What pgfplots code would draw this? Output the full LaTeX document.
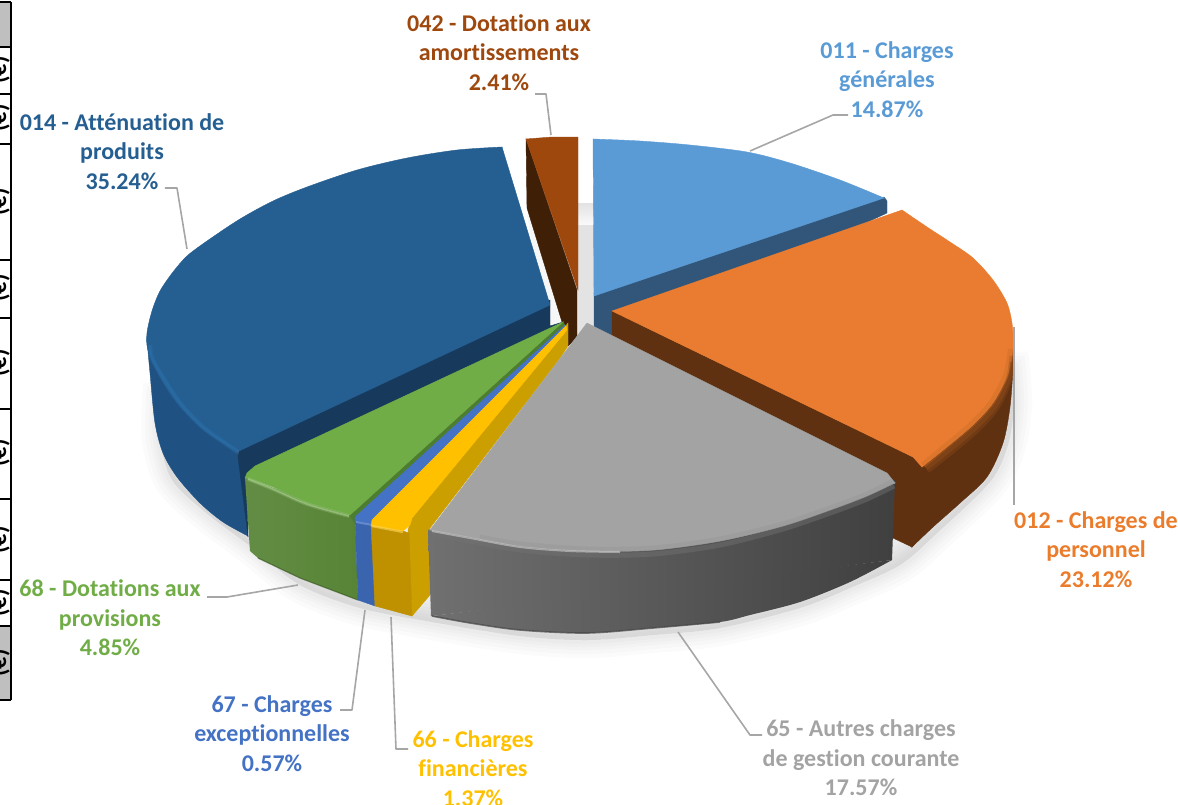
\documentclass[border=0pt]{standalone}
\usepackage{fontspec}
\setmainfont[Ligatures={NoCommon}]{Carlito}
\usepackage{pgfplots}
\pgfplotsset{compat=1.18}
\definecolor{c011}{HTML}{5B9BD5}\definecolor{c011s}{HTML}{31567A}
\definecolor{c012}{HTML}{E97C30}\definecolor{c012s}{HTML}{5F3110}
\definecolor{c65}{HTML}{A3A3A3}
\definecolor{c66}{HTML}{FFC000}\definecolor{c66s}{HTML}{BF9000}\definecolor{c66c}{HTML}{CC9F00}
\definecolor{c67}{HTML}{4472C4}\definecolor{c67s}{HTML}{3A64AE}
\definecolor{c68}{HTML}{70AD47}\definecolor{c68s}{HTML}{578436}\definecolor{c68c}{HTML}{4D7D2F}
\definecolor{c014}{HTML}{255E91}\definecolor{c014s}{HTML}{1F5283}\definecolor{c014c}{HTML}{173A5C}\definecolor{c014r}{HTML}{2A6DA6}
\definecolor{c042}{HTML}{9E480E}\definecolor{c042c}{HTML}{3F1F06}
\definecolor{lead}{HTML}{A6A6A6}
\tikzset{
  lab/.style={font=\bfseries\fontsize{12}{14.75}\selectfont,align=center,anchor=center,inner sep=0pt},
  ldr/.style={draw=lead,line width=0.8pt,line join=round},
  pf/.style={draw=#1,line width=0.2pt,fill=#1},
  tg/.style={font=\bfseries\fontsize{12}{12}\selectfont,rotate=90,inner sep=0pt,text=black},
  tl/.style={draw=black,line width=0.6pt},
  shd/.style={draw=black,fill=black,draw opacity=0.017,fill opacity=0.015,smooth,line width=#1}}
\begin{document}
\begin{tikzpicture}[x=1pt,y=1pt]
\clip (0,0) rectangle (589,402);
\begin{axis}[at={(0,0)},anchor=south west,scale only axis,width=589pt,height=402pt,
  xmin=0,xmax=1178,ymin=0,ymax=804,y dir=reverse,axis lines=none,clip=false,
  every axis plot/.append style={no markers}]
% soft shadow
\addplot[shd=18pt] coordinates {(160,400)(160,440)(172,480)(205,512)(250,546)(300,585)(360,608)(432,622)(520,636)(587,640)(653,635)(720,628)(800,608)(850,588)(900,565)(935,535)(990,482)(1008,445)(1014,405)(1012,370)} --cycle;
\addplot[shd=14pt] coordinates {(160,400)(160,440)(172,480)(205,512)(250,546)(300,585)(360,608)(432,622)(520,636)(587,640)(653,635)(720,628)(800,608)(850,588)(900,565)(935,535)(990,482)(1008,445)(1014,405)(1012,370)} --cycle;
\addplot[shd=10pt] coordinates {(160,400)(160,440)(172,480)(205,512)(250,546)(300,585)(360,608)(432,622)(520,636)(587,640)(653,635)(720,628)(800,608)(850,588)(900,565)(935,535)(990,482)(1008,445)(1014,405)(1012,370)} --cycle;
\addplot[shd=7pt] coordinates {(160,400)(160,440)(172,480)(205,512)(250,546)(300,585)(360,608)(432,622)(520,636)(587,640)(653,635)(720,628)(800,608)(850,588)(900,565)(935,535)(990,482)(1008,445)(1014,405)(1012,370)} --cycle;
\addplot[shd=4pt] coordinates {(160,400)(160,440)(172,480)(205,512)(250,546)(300,585)(360,608)(432,622)(520,636)(587,640)(653,635)(720,628)(800,608)(850,588)(900,565)(935,535)(990,482)(1008,445)(1014,405)(1012,370)} --cycle;
\addplot[draw=none,top color=black!2,bottom color=black!11,shading angle=180] coordinates {(577,203)(594,203)(594,225)(577,225)} --cycle;
\addplot[draw=none,fill=black!11] coordinates {(577,225)(594,225)(594,340)(577,340)} --cycle;
\addplot[draw=none,fill=black!3] coordinates {(527,215)(578,215)(578,340)(550,340)} --cycle;
% table fragment
\addplot[draw=none,fill=black!25] coordinates {(0,2)(11,2)(11,47)(0,47)} --cycle;
\addplot[draw=none,fill=black!25] coordinates {(0,626)(11,626)(11,700)(0,700)} --cycle;
\addplot[tl] coordinates {(11,2)(11,700)};
\addplot[tl] coordinates {(0,2)(11,2)};
\addplot[tl] coordinates {(0,47)(11,47)};
\addplot[tl] coordinates {(0,94)(11,94)};
\addplot[tl] coordinates {(0,144)(11,144)};
\addplot[tl] coordinates {(0,260)(11,260)};
\addplot[tl] coordinates {(0,318)(11,318)};
\addplot[tl] coordinates {(0,409)(11,409)};
\addplot[tl] coordinates {(0,499)(11,499)};
\addplot[tl] coordinates {(0,580)(11,580)};
\addplot[tl] coordinates {(0,626)(11,626)};
\addplot[tl] coordinates {(0,700)(11,700)};
% 011
\addplot[pf=c011s] coordinates {(594,292)(884,197)(887,201)(887,213)(700,300)(612,340)(594,330)} --cycle;
\addplot[pf=c011] coordinates {(593,139)(740,160)(884,198)(594,296)} --cycle;
\addplot[pf=c011,smooth] coordinates {(593,139)(640,141)(690,145)(747,152)(790,163)(840,180)(884,198)} --cycle;
% 042
\addplot[pf=c042c] coordinates {(526,139)(577,290)(577,337)(568,346)(562,322)(527,208)} --cycle;
\addplot[pf=c042] coordinates {(526,139)(552,137)(578,137)(578,290)} --cycle;
% 014 side
\addplot[pf=c014s,smooth] coordinates {(147,340)(150,373)(155,423)(163,453)(177,477)(200,503)(223,522)(248,536)} --cycle;
\addplot[pf=c014s] coordinates {(150,345)(170,440)(248,536)(238,452)(190,400)} --cycle;
% 014 cut
\addplot[pf=c014c] coordinates {(550,300)(550,326)(563,322)(247,476)(248,537)(238,457)(240,440)} --cycle;
% 014 top
\addplot[pf=c014] coordinates {(550,305)(502,147)(300,250)(239,451)} --cycle;
\addplot[pf=c014,smooth] coordinates {(502,147)(457,150)(407,158)(357,170)(307,187)(273,201)(240,219)(207,241)(187,256)(173,272)(160,291)(152,311)(147,333)(148,350)(160,377)(177,403)(200,427)(223,443)(239,451)} --cycle;
\addplot[draw=c014r,line width=2.5pt,opacity=.35,smooth] coordinates {(150,345)(152,358)(164,379)(181,404)(203,427)(225,443)(238,452)};
\addplot[draw=c014r,line width=1.4pt,opacity=.6,smooth] coordinates {(150,345)(152,358)(164,379)(181,404)(203,427)(225,443)(238,452)};
% 012
\addplot[pf=c012s,smooth] coordinates {(1013,340)(1013,367)(1010,407)(1003,443)(987,477)(960,503)(933,527)(912,547)} --cycle;
\addplot[pf=c012s] coordinates {(612,311)(913,457)(1012,340)(985,460)(912,547)(893,538)(612,340)} --cycle;
\addplot[pf=c012] coordinates {(612,311)(902,210)(960,340)(922,467)(913,457)} --cycle;
\addplot[pf=c012,smooth] coordinates {(902,210)(927,227)(950,242)(973,258)(993,280)(1007,303)(1012,323)(1013,340)(1012,357)(1007,377)(993,403)(973,425)(947,447)(922,467)} --cycle;
\addplot[draw=c012!80!c012s,line width=3pt,opacity=.4,smooth] coordinates {(1011,349)(1006,375)(992,402)(972,424)(946,446)(923,465)};
\addplot[draw=c012!50!c012s,line width=2.5pt,opacity=.45,smooth] coordinates {(1012,356)(1008,380)(995,406)(975,428)(949,450)(926,468)};
\addplot[draw=c012!25!c012s,line width=2pt,opacity=.5,smooth] coordinates {(1012,362)(1009,384)(996,410)(977,431)(951,453)(928,471)};
% green
\addplot[draw=none,left color=c68s!93!white,right color=c68s] coordinates {(245,478)(250,551)(258,558)(300,578)(358,600)(355,515)(320,500)(280,490)} --cycle;
\addplot[draw=c68s!70!black,line width=0.6pt,opacity=.7] coordinates {(258,558)(300,578)(358,600)};
\addplot[pf=c68c] coordinates {(563,322)(347,510)(354,522)(566,327)} --cycle;
\addplot[pf=c68] coordinates {(563,322)(255,466)(247,473)(245,478)(273,487)(307,503)(350,515)} --cycle;
\addplot[draw=c68!65!white,line width=2pt,opacity=.3,smooth] coordinates {(248,479)(273,489)(307,504)(349,516)};
\addplot[draw=c68!65!white,line width=0.8pt,opacity=.7,smooth] coordinates {(248,479)(273,489)(307,504)(349,516)};
% blue
\addplot[pf=c67s] coordinates {(355,518)(372,525)(375,606)(358,600)} --cycle;
\addplot[pf=c67] coordinates {(565,325)(355,517)(355,522)(372,525)(372,520)(566,328)} --cycle;
\addplot[draw=c67!70!white,line width=1pt,opacity=.6] coordinates {(356,522)(372,525)};
% yellow
\addplot[pf=c66c] coordinates {(568,323)(568,346)(560,358)(430,528)(430,595)(412,616)(408,530)(412,518)} --cycle;
\addplot[pf=c66s] coordinates {(371,525)(403,531)(409,533)(412,616)(375,606)} --cycle;
\addplot[pf=c66] coordinates {(566,326)(372,520)(371,526)(403,531)(410,525)(412,518)(567,330)} --cycle;
\addplot[draw=c66!65!white,line width=1.2pt,opacity=.6] coordinates {(372,526)(403,532)};
% grey side
\addplot[draw=none,left color=black!56,right color=black!75,smooth] coordinates {(431,616)(470,623)(520,630)(587,633)(653,628)(720,622)(750,615)(800,602)(850,582)(892,560)} --cycle;
\addplot[draw=none,left color=black!56,right color=black!75] coordinates {(428,530)(431,616)(660,590)(892,560)(895,480)} --cycle;
\addplot[draw=black!72,line width=0.8pt,opacity=.7,smooth] coordinates {(432,616)(470,623)(520,630)(587,633)(653,628)(720,622)};
% grey top
\addplot[pf=c65] coordinates {(587,323)(887,473)(895,483)(660,530)(430,530)} --cycle;
\addplot[pf=c65,smooth] coordinates {(430,530)(470,537)(520,546)(587,551)(653,550)(720,541)(783,526)(833,509)(867,496)(895,483)} --cycle;
\addplot[draw=black!42,line width=2.5pt,opacity=.4,smooth] coordinates {(480,537)(520,544)(587,549)(653,548)(720,539)(783,524)(833,507)(867,494)(893,481)};
\addplot[draw=black!55,line width=2.5pt,opacity=.45,smooth] coordinates {(432,534)(470,541)(520,550)(587,555)(653,554)(720,545)(783,529)(833,512)(867,499)(894,486)};
\addplot[draw=black!18,line width=1pt,opacity=.6,smooth] coordinates {(432,531)(470,538)(520,547)(570,551)(620,552)};
% leaders
\addplot[ldr] coordinates {(750,151)(833,115)(848,115)};
\addplot[ldr] coordinates {(551,135)(546,94)(535,94)};
\addplot[ldr] coordinates {(165,188)(177,188)(187,249)};
\addplot[ldr] coordinates {(1014,327)(1014,505)};
\addplot[ldr] coordinates {(678,632)(750,735)(762,735)};
\addplot[ldr] coordinates {(391,617)(396,749)(408,749)};
\addplot[ldr] coordinates {(365,610)(352,710)(340,710)};
\addplot[ldr] coordinates {(298,585)(227,597)(207,597)};
% labels
\node[lab,text=c011] at (axis cs:887,79.5) {011 - Charges\\générales\\14.87\%};
\node[lab,text=c042] at (axis cs:499,52.5) {042 - Dotation aux\\amortissements\\2.41\%};
\node[lab,text=c014] at (axis cs:122,151.5) {014 - Atténuation de\\produits\\35.24\%};
\node[lab,text=c012!90!orange] at (axis cs:1096,549.5) {012 - Charges de\\personnel\\23.12\%};
\node[lab,text=c65] at (axis cs:861,758) {65 - Autres charges\\de gestion courante\\17.57\%};
\node[lab,text=c66] at (axis cs:473,768.5) {66 - Charges\\financières\\1.37\%};
\node[lab,text=c67] at (axis cs:272,733.5) {67 - Charges\\exceptionnelles\\0.57\%};
\node[lab,text=c68] at (axis cs:110,618) {68 - Dotations aux\\provisions\\4.85\%};
% table glyphs
\node[tg] at (axis cs:-1,70) {(€)};
\node[tg] at (axis cs:-1,118) {(€)};
\node[tg] at (axis cs:-1,202) {(€)};
\node[tg] at (axis cs:-1,288) {(€)};
\node[tg] at (axis cs:-1,363) {(€)};
\node[tg] at (axis cs:-1,453) {(€)};
\node[tg] at (axis cs:-1,540) {(€)};
\node[tg] at (axis cs:-1,603) {(€)};
\node[tg] at (axis cs:-1,663) {(€)};
\end{axis}
\end{tikzpicture}
\end{document}
